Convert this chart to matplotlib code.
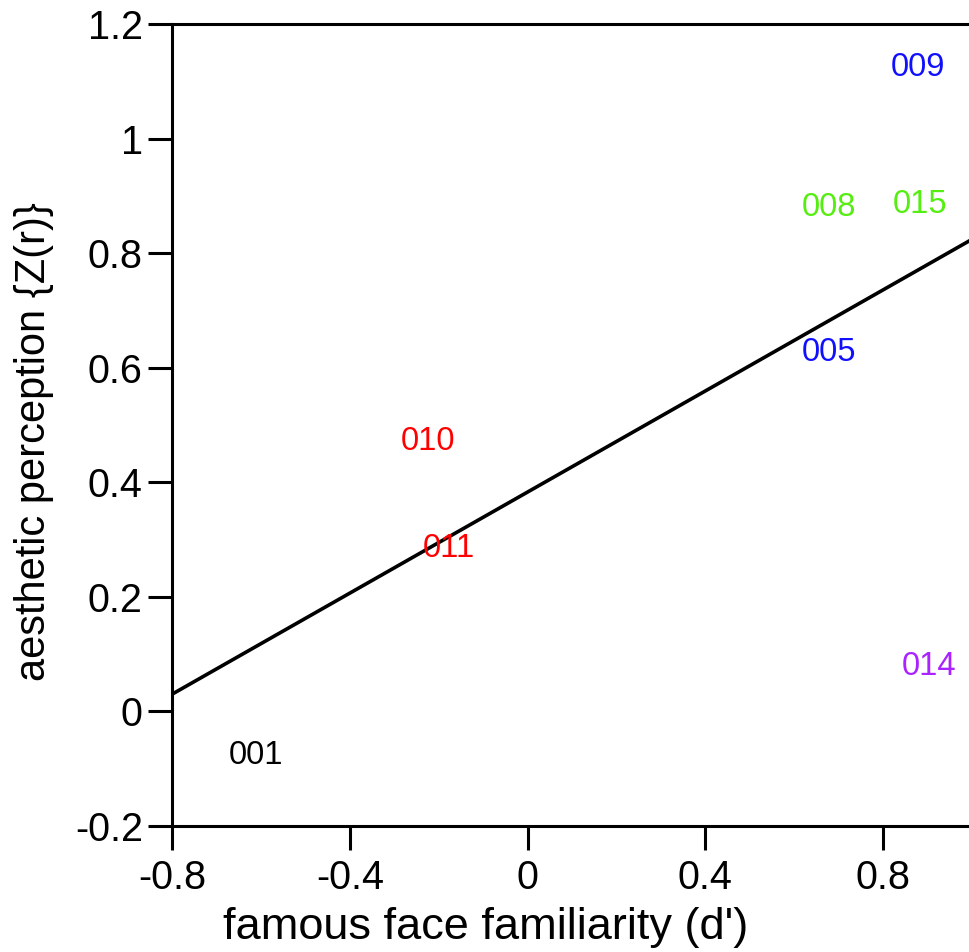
import matplotlib
matplotlib.use("Agg")
import matplotlib.pyplot as plt

plt.rcParams['font.family'] = ['Liberation Sans', 'DejaVu Sans']

# data: labelled subjects
labels = ["001", "010", "011", "005", "008", "015", "009", "014"]
fam_x = [-0.611, -0.225, -0.177, 0.678, 0.678, 0.884, 0.878, 0.903]
aes_y = [-0.070, 0.477, 0.290, 0.632, 0.886, 0.891, 1.131, 0.084]
label_colors = ["#000000", "#ff0000", "#ff0000", "#1010ff", "#55ee11", "#55ee11", "#1010ff", "#aa22ff"]

# regression line endpoints
fit_x = [-0.8, 1.0]
fit_y = [0.030, 0.824]

xticks = [-0.8, -0.4, 0, 0.4, 0.8]
xticklabels = ["-0.8", "-0.4", "0", "0.4", "0.8"]
yticks = [-0.2, 0, 0.2, 0.4, 0.6, 0.8, 1.0, 1.2]
yticklabels = ["-0.2", "0", "0.2", "0.4", "0.6", "0.8", "1", "1.2"]

fig = plt.figure(figsize=(9.69, 9.52), dpi=100)
ax = fig.add_axes([172/969, 126/952, 797/969, 802/952])
ax.set_xlim(-0.8, 0.9935)
ax.set_ylim(-0.2, 1.2)

ax.plot(fit_x, fit_y, color='black', lw=2.6, solid_capstyle='butt')

for t, x, y, c in zip(labels, fam_x, aes_y, label_colors):
    ax.text(x, y, t, color=c, fontsize=23.5, ha='center', va='center_baseline')

ax.spines['right'].set_visible(False)
for s in ['left', 'bottom', 'top']:
    ax.spines[s].set_linewidth(2.2)

ax.set_xticks(xticks)
ax.set_xticklabels(xticklabels)
ax.set_yticks(yticks)
ax.set_yticklabels(yticklabels)
ax.tick_params(axis='both', direction='out', length=17, width=2.2, labelsize=28.5)
ax.tick_params(axis='x', pad=7)
ax.tick_params(axis='y', pad=4)

fig.text(486/969, 1 - 927/952, "famous face familiarity (d')", fontsize=32.5,
         ha='center', va='center')
fig.text(34/969, 1 - 442/952, "aesthetic perception {Z(r)}", fontsize=30,
         ha='center', va='center', rotation=90)

fig.savefig("out.png", dpi=100)
